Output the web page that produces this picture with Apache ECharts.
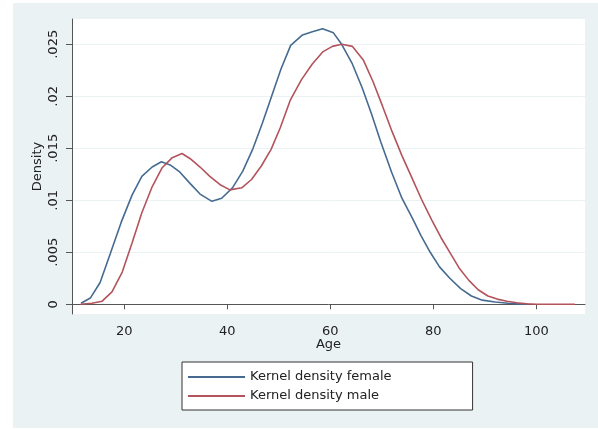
<!DOCTYPE html>
<html>
<head>
<meta charset="utf-8">
<script src="https://cdn.jsdelivr.net/npm/echarts@6/dist/echarts.min.js"></script>
<style>
  html, body { margin: 0; padding: 0; background: #ffffff; }
  #wrap { position: relative; width: 598px; height: 429px; overflow: hidden; }
  #bg { position: absolute; left: 13px; top: 3px; width: 585px; height: 425px; background: #eaf2f3; }
  #chart { position: absolute; left: 0; top: 0; width: 598px; height: 429px; }
</style>
</head>
<body>
<div id="wrap"><div id="bg"></div><div id="chart"></div></div>
<script>
// ---- data ----
const ageFemale = [11.6, 13.4, 15.3, 17.3, 19.4, 21.5, 23.4, 25.4, 27.2, 28.9, 30.8, 32.8, 34.7, 37.0, 38.9,
  41.0, 43.0, 45.0, 46.8, 48.6, 50.4, 52.3, 54.6, 56.5, 58.5, 60.6, 62.2, 64.2, 66.2, 68.0, 69.8, 71.9,
  73.9, 75.9, 77.6, 79.4, 81.2, 83.2, 85.3, 87.4, 89.5, 92.0, 94.5, 97.0, 98.5];
const densityFemale = [0.0001, 0.0006, 0.0021, 0.0049, 0.0079, 0.0105, 0.0123, 0.0132, 0.0137, 0.0134, 0.0127,
  0.0116, 0.0106, 0.0099, 0.0102, 0.0112, 0.0128, 0.0150, 0.0174, 0.0200, 0.0226, 0.0249, 0.0259, 0.0262,
  0.0265, 0.0261, 0.0250, 0.0232, 0.0208, 0.0183, 0.0156, 0.0127, 0.0102, 0.0083, 0.0066, 0.0050, 0.0036,
  0.0025, 0.0015, 0.0008, 0.0004, 0.00022, 0.0001, 0.00002, 0.0];
const ageMale = [11.5, 13.7, 15.7, 17.6, 19.6, 21.5, 23.4, 25.4, 27.3, 29.3, 31.2, 32.8, 34.7, 36.6, 38.6,
  40.5, 42.8, 44.7, 46.6, 48.5, 50.3, 52.2, 54.4, 56.5, 58.6, 60.4, 62.2, 64.3, 66.4, 68.3, 70.1, 72.0,
  73.9, 75.8, 77.7, 79.7, 81.5, 83.2, 85.0, 86.9, 88.7, 90.6, 92.4, 94.3, 96.2, 98.1, 100.0, 102.0, 104.0,
  106.0, 107.5];
const densityMale = [0.0, 0.0001, 0.0003, 0.0012, 0.0031, 0.0059, 0.0088, 0.0113, 0.0131, 0.0141, 0.0145,
  0.0140, 0.0132, 0.0123, 0.0115, 0.0110, 0.0112, 0.0120, 0.0133, 0.0149, 0.0170, 0.0196, 0.0216, 0.0231,
  0.0243, 0.0248, 0.0250, 0.0248, 0.0235, 0.0214, 0.0191, 0.0166, 0.0143, 0.0122, 0.0101, 0.0081, 0.0064,
  0.0050, 0.0035, 0.0023, 0.0014, 0.0008, 0.0005, 0.0003, 0.00015, 0.00005, 0.0, 0.0, 0.0, 0.0, 0.0];
const xTicks = [20, 40, 60, 80, 100];
const yTicks = [0, 0.005, 0.01, 0.015, 0.02, 0.025];
const seriesNames = ['Kernel density female', 'Kernel density male'];
const xTitle = 'Age';
const yTitle = 'Density';

const pairs = (xs, ys) => xs.map((x, i) => [x, ys[i]]);
const FONT = 'DejaVu Sans';
const BLUE = '#456b91';
const RED = '#b3535c';
const chart = echarts.init(document.getElementById('chart'), null, { renderer: 'canvas' });
chart.setOption({
  backgroundColor: 'transparent',
  animation: false,
  grid: { left: 72, right: 13, top: 19, bottom: 115, show: true, backgroundColor: '#ffffff', borderWidth: 0 },
  xAxis: {
    type: 'value', min: 9.84, max: 109.45,
    name: xTitle, nameLocation: 'middle', nameGap: 24, nameMoveOverlap: false,
    nameTextStyle: { fontFamily: FONT, fontSize: 13, color: '#222' },
    axisLine: { show: true, lineStyle: { color: '#555', width: 1 } },
    axisTick: { show: true, customValues: xTicks, length: 5, lineStyle: { color: '#555' } },
    axisLabel: { customValues: xTicks, margin: 11, fontFamily: FONT, fontSize: 13, color: '#222' },
    splitLine: { show: false }
  },
  yAxis: {
    type: 'value', min: -0.000933, max: 0.027433,
    name: yTitle, nameLocation: 'middle', nameGap: 28, nameMoveOverlap: false,
    nameTextStyle: { fontFamily: FONT, fontSize: 13, color: '#222' },
    axisLine: { show: true, lineStyle: { color: '#555', width: 1 } },
    axisTick: { show: true, customValues: yTicks, length: 6, lineStyle: { color: '#555' } },
    axisLabel: {
      customValues: yTicks, rotate: 90, margin: 12, fontFamily: FONT, fontSize: 13, color: '#222',
      formatter: v => (Math.abs(v) < 1e-12 ? '0' : String(+v.toFixed(4)).replace(/^0/, ''))
    },
    splitLine: { show: true, lineStyle: { color: '#eaf2f3', width: 1 } }
  },
  legend: {
    orient: 'vertical', left: 182, top: 362,
    padding: [8, 81, 7, 6], itemGap: 5, itemWidth: 57, itemHeight: 2, icon: 'rect',
    backgroundColor: '#ffffff', borderColor: '#333', borderWidth: 1,
    textStyle: { fontFamily: FONT, fontSize: 13, color: '#222', lineHeight: 14 },
    data: seriesNames
  },
  series: [
    { name: seriesNames[0], type: 'line', data: pairs(ageFemale, densityFemale), symbol: 'none', showSymbol: false,
      lineStyle: { color: BLUE, width: 1.6 }, itemStyle: { color: BLUE } },
    { name: seriesNames[1], type: 'line', data: pairs(ageMale, densityMale), symbol: 'none', showSymbol: false,
      lineStyle: { color: RED, width: 1.6 }, itemStyle: { color: RED } }
  ]
});
</script>
</body>
</html>
